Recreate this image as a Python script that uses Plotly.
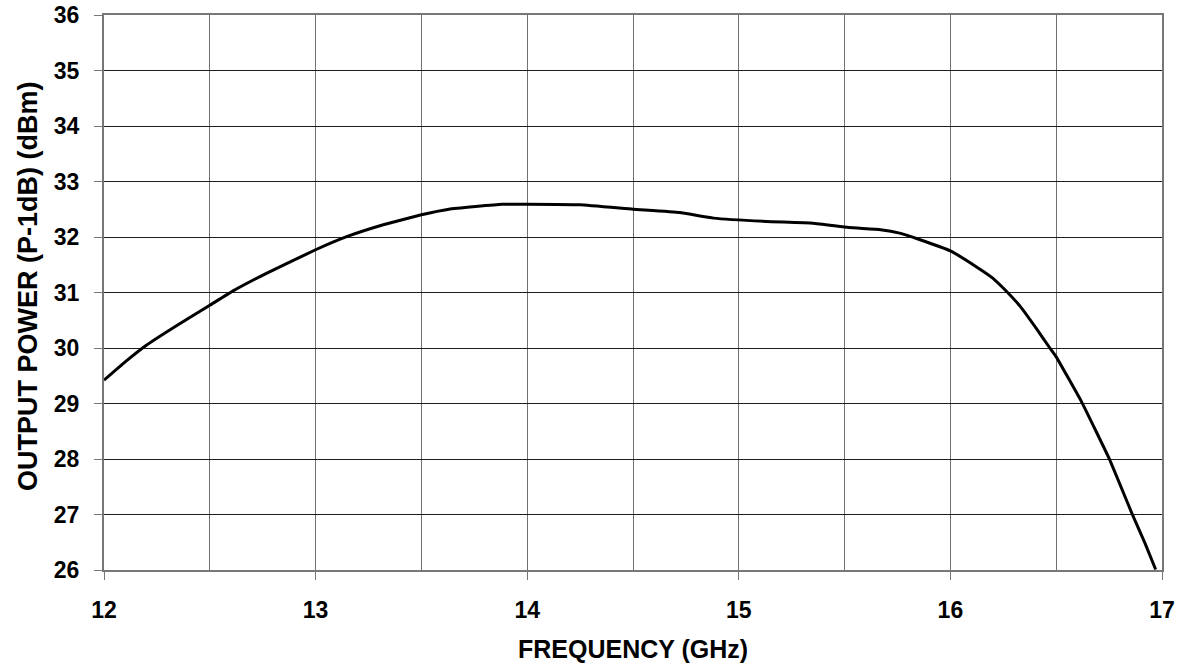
import plotly.graph_objects as go

freq_ghz = [12.0, 12.1, 12.2, 12.35, 12.5, 12.61, 12.77, 13.0, 13.15, 13.32, 13.5, 13.63,
            13.88, 14.0, 14.25, 14.5, 14.72, 14.88, 15.13, 15.35, 15.52, 15.67, 15.76,
            15.85, 16.0, 16.12, 16.2, 16.26, 16.33, 16.41, 16.47, 16.5, 16.62, 16.75,
            16.86, 16.92, 16.97]
power_dbm = [29.42, 29.75, 30.05, 30.42, 30.77, 31.03, 31.35, 31.77, 32.01, 32.22, 32.4, 32.5,
             32.59, 32.59, 32.58, 32.5, 32.44, 32.34, 32.28, 32.25, 32.17, 32.13, 32.07,
             31.96, 31.75, 31.47, 31.26, 31.04, 30.75, 30.33, 30.0, 29.84, 29.03, 28.01,
             27.0, 26.48, 26.01]

x_ticks = [12, 13, 14, 15, 16, 17]
y_ticks = list(range(26, 37))

font_family = "Liberation Sans, Arial, sans-serif"
tick_font = dict(family=font_family, size=23, color="black", weight="bold")
xtitle_font = dict(family=font_family, size=25, color="black", weight="bold")
ytitle_font = dict(family=font_family, size=27, color="black", weight="bold")

fig = go.Figure()
fig.add_trace(go.Scatter(x=freq_ghz, y=power_dbm, mode="lines",
                         line=dict(color="black", width=3, shape="spline", smoothing=0.3),
                         showlegend=False, hoverinfo="skip"))

fig.update_layout(
    width=1184, height=668,
    margin=dict(l=104, r=22, t=15, b=98, autoexpand=False),
    paper_bgcolor="white", plot_bgcolor="white",
    font=dict(family=font_family, size=23, color="black"),
    xaxis=dict(range=[12, 17], tickvals=x_ticks, ticktext=[str(v) for v in x_ticks],
               tickfont=tick_font,
               ticks="outside", ticklen=8, tickcolor="#777", tickwidth=1,
               showgrid=True, gridcolor="#707070", gridwidth=1,
               minor=dict(dtick=0.5, tick0=12, showgrid=True, gridcolor="#707070", gridwidth=1, ticks=""),
               showline=True, linecolor="#777", linewidth=2, mirror=True,
               zeroline=False, ticklabelstandoff=10, fixedrange=True, automargin=False),
    yaxis=dict(range=[26, 36], tickvals=y_ticks,
               tickfont=tick_font,
               ticks="outside", ticklen=8, tickcolor="#777", tickwidth=1,
               showgrid=True, gridcolor="#1e1e1e", gridwidth=1,
               showline=True, linecolor="#777", linewidth=2, mirror=True,
               zeroline=False, ticklabelstandoff=10, fixedrange=True, automargin=False),
    annotations=[
        dict(text="FREQUENCY (GHz)", xref="paper", yref="paper",
             x=0.5, y=0, yshift=-63, showarrow=False, xanchor="center", yanchor="top",
             font=xtitle_font),
        dict(text="OUTPUT POWER (P-1dB) (dBm)", xref="paper", yref="paper",
             x=0, xshift=-76, y=0.51, showarrow=False, textangle=-90,
             xanchor="center", yanchor="middle",
             font=ytitle_font),
    ],
)

fig.write_html("out.html", config={"displayModeBar": False},
               post_script="document.body.style.margin='0';document.body.style.padding='0';")
